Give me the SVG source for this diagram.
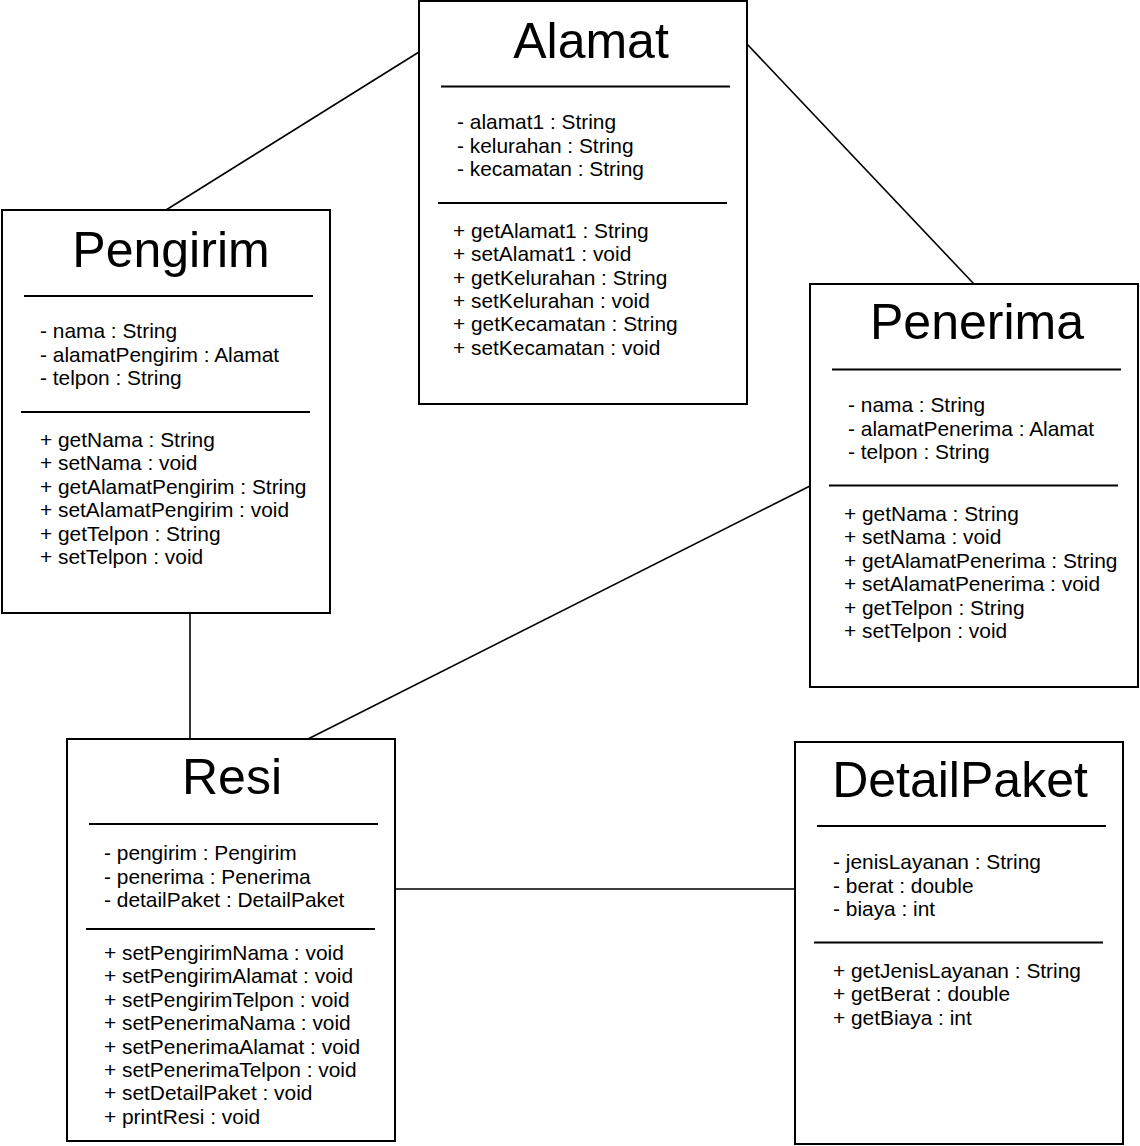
<svg xmlns="http://www.w3.org/2000/svg" width="1140" height="1146" viewBox="0 0 1140 1146">
<style>
.box{fill:#fff;stroke:#000;stroke-width:2}
.div{stroke:#000;stroke-width:2}
.conn{stroke:#000;stroke-width:1.6;fill:none}
.title{font-family:"Liberation Sans",Arial,sans-serif;font-size:50px;text-anchor:middle;fill:#000}
.t{font-family:"Liberation Sans",Arial,sans-serif;font-size:20.9px;fill:#000}
</style>
<rect width="1140" height="1146" fill="#fff"/>
<g id="connectors">
<line class="conn" x1="419" y1="52" x2="166" y2="210"/>
<line class="conn" x1="747" y1="44" x2="974" y2="284"/>
<line class="conn" x1="190" y1="613" x2="190" y2="739"/>
<line class="conn" x1="810" y1="486" x2="308" y2="739"/>
<line class="conn" x1="395" y1="889" x2="795" y2="889"/>
</g>
<g id="Alamat">
<rect class="box" x="419" y="1" width="328" height="403"/>
<text class="title" x="591" y="58">Alamat</text>
<line class="div" x1="441" y1="86.5" x2="730" y2="86.5"/>
<text class="t" x="457" y="129">- alamat1 : String</text>
<text class="t" x="457" y="152.5">- kelurahan : String</text>
<text class="t" x="457" y="176">- kecamatan : String</text>
<line class="div" x1="438" y1="203" x2="727" y2="203"/>
<text class="t" x="453" y="238">+ getAlamat1 : String</text>
<text class="t" x="453" y="261.3">+ setAlamat1 : void</text>
<text class="t" x="453" y="284.6">+ getKelurahan : String</text>
<text class="t" x="453" y="307.9">+ setKelurahan : void</text>
<text class="t" x="453" y="331.2">+ getKecamatan : String</text>
<text class="t" x="453" y="354.5">+ setKecamatan : void</text>
</g>
<g id="Pengirim">
<rect class="box" x="2" y="210" width="328" height="403"/>
<text class="title" x="171" y="267">Pengirim</text>
<line class="div" x1="24" y1="296" x2="313" y2="296"/>
<text class="t" x="40" y="338">- nama : String</text>
<text class="t" x="40" y="361.5">- alamatPengirim : Alamat</text>
<text class="t" x="40" y="385">- telpon : String</text>
<line class="div" x1="21" y1="412" x2="310" y2="412"/>
<text class="t" x="40" y="447">+ getNama : String</text>
<text class="t" x="40" y="470.4">+ setNama : void</text>
<text class="t" x="40" y="493.8">+ getAlamatPengirim : String</text>
<text class="t" x="40" y="517.2">+ setAlamatPengirim : void</text>
<text class="t" x="40" y="540.6">+ getTelpon : String</text>
<text class="t" x="40" y="564">+ setTelpon : void</text>
</g>
<g id="Penerima">
<rect class="box" x="810" y="284" width="328" height="403"/>
<text class="title" x="977" y="339">Penerima</text>
<line class="div" x1="832" y1="369.5" x2="1121" y2="369.5"/>
<text class="t" x="848" y="412">- nama : String</text>
<text class="t" x="848" y="435.5">- alamatPenerima : Alamat</text>
<text class="t" x="848" y="459">- telpon : String</text>
<line class="div" x1="829" y1="485.5" x2="1118" y2="485.5"/>
<text class="t" x="844" y="521">+ getNama : String</text>
<text class="t" x="844" y="544.4">+ setNama : void</text>
<text class="t" x="844" y="567.8">+ getAlamatPenerima : String</text>
<text class="t" x="844" y="591.2">+ setAlamatPenerima : void</text>
<text class="t" x="844" y="614.6">+ getTelpon : String</text>
<text class="t" x="844" y="638">+ setTelpon : void</text>
</g>
<g id="Resi">
<rect class="box" x="67" y="739" width="328" height="402"/>
<text class="title" x="232" y="794">Resi</text>
<line class="div" x1="89" y1="824" x2="378" y2="824"/>
<text class="t" x="104" y="860">- pengirim : Pengirim</text>
<text class="t" x="104" y="883.5">- penerima : Penerima</text>
<text class="t" x="104" y="907">- detailPaket : DetailPaket</text>
<line class="div" x1="86" y1="929" x2="375" y2="929"/>
<text class="t" x="104" y="960">+ setPengirimNama : void</text>
<text class="t" x="104" y="983.4">+ setPengirimAlamat : void</text>
<text class="t" x="104" y="1006.8">+ setPengirimTelpon : void</text>
<text class="t" x="104" y="1030.2">+ setPenerimaNama : void</text>
<text class="t" x="104" y="1053.6">+ setPenerimaAlamat : void</text>
<text class="t" x="104" y="1077">+ setPenerimaTelpon : void</text>
<text class="t" x="104" y="1100.4">+ setDetailPaket : void</text>
<text class="t" x="104" y="1123.8">+ printResi : void</text>
</g>
<g id="DetailPaket">
<rect class="box" x="795" y="742" width="328" height="402"/>
<text class="title" x="960" y="797">DetailPaket</text>
<line class="div" x1="817" y1="826" x2="1106" y2="826"/>
<text class="t" x="833" y="869">- jenisLayanan : String</text>
<text class="t" x="833" y="892.5">- berat : double</text>
<text class="t" x="833" y="916">- biaya : int</text>
<line class="div" x1="814" y1="942.5" x2="1103" y2="942.5"/>
<text class="t" x="833" y="978">+ getJenisLayanan : String</text>
<text class="t" x="833" y="1001.4">+ getBerat : double</text>
<text class="t" x="833" y="1024.8">+ getBiaya : int</text>
</g>
</svg>
